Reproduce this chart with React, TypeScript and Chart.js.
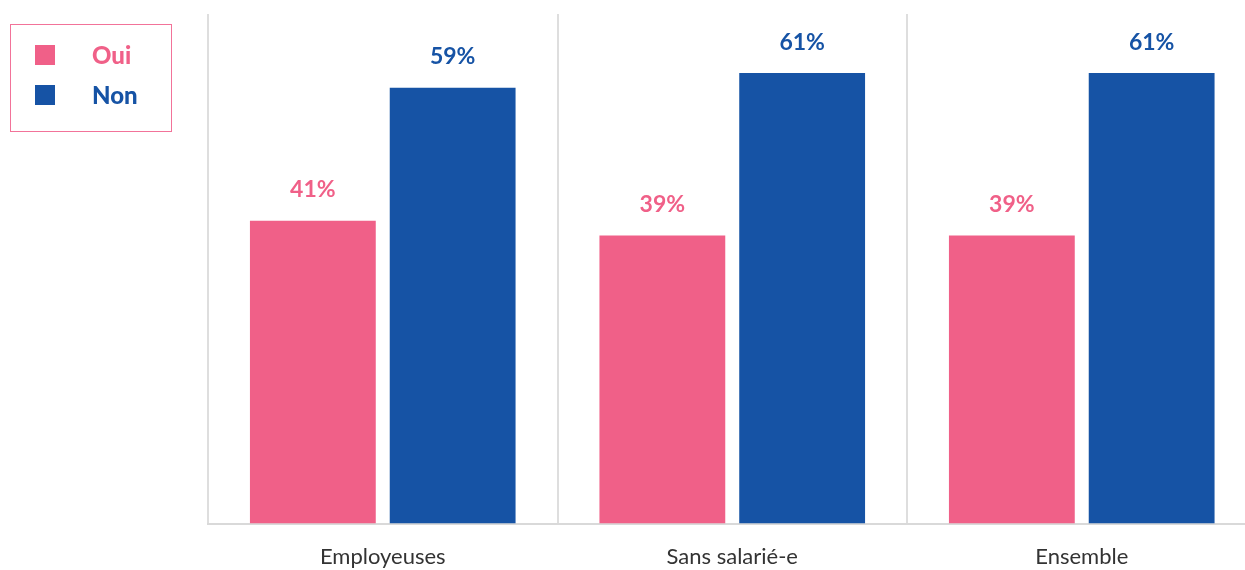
import React, { useEffect, useRef } from "react";
import { Chart, registerables } from "chart.js";

Chart.register(...registerables);

const categories = ["Employeuses", "Sans salarié-e", "Ensemble"];
const seriesNames = ["Oui", "Non"];
const ouiValues = [41, 39, 39];
const nonValues = [59, 61, 61];
const seriesColors = ["#F06088", "#1653A5"];

const FONT = "Lato, 'Noto Sans', sans-serif";

const valueLabels = {
  id: "valueLabels",
  afterDatasetsDraw(chart: any) {
    const ctx = chart.ctx;
    ctx.save();
    ctx.font = `bold 23px ${FONT}`;
    ctx.textAlign = "center";
    ctx.textBaseline = "middle";
    chart.data.datasets.forEach((ds: any, i: number) => {
      const meta = chart.getDatasetMeta(i);
      meta.data.forEach((el: any, j: number) => {
        ctx.fillStyle = ds.backgroundColor;
        ctx.fillText(`${ds.data[j]}%`, el.x, el.y - 31);
      });
    });
    ctx.restore();
  },
};

const boxedLegend = {
  id: "boxedLegend",
  afterDraw(chart: any) {
    const ctx = chart.ctx;
    ctx.save();
    ctx.strokeStyle = "#F27399";
    ctx.lineWidth = 1;
    ctx.strokeRect(10.5, 24.5, 161, 107);
    ctx.font = `900 24px ${FONT}`;
    ctx.textAlign = "left";
    ctx.textBaseline = "middle";
    chart.data.datasets.forEach((ds: any, i: number) => {
      ctx.fillStyle = ds.backgroundColor;
      ctx.fillRect(35, 45 + 40 * i, 20, 20);
      ctx.fillText(ds.label, 92, 56 + 40 * i);
    });
    ctx.restore();
  },
};

export default function App() {
  const ref = useRef<HTMLCanvasElement>(null);
  useEffect(() => {
    if (!ref.current) return;
    const chart = new Chart(ref.current, {
      type: "bar",
      data: {
        labels: categories,
        datasets: [
          { label: seriesNames[0], data: ouiValues, backgroundColor: seriesColors[0] },
          { label: seriesNames[1], data: nonValues, backgroundColor: seriesColors[1] },
        ],
      },
      options: {
        animation: false,
        responsive: false,
        layout: { padding: { left: 208, right: 3.5, top: 14, bottom: 0 } },
        plugins: { legend: { display: false }, tooltip: { enabled: false } },
        scales: {
          x: {
            grid: { color: "#dedede", lineWidth: 2, drawTicks: false },
            border: { color: "#d9d9d9", width: 2 },
            ticks: { color: "#333333", padding: 20, font: { family: FONT, size: 22 } },
          },
          y: { display: false, min: 0, max: 69 },
        },
      },
      plugins: [valueLabels, boxedLegend],
    });
    return () => chart.destroy();
  }, []);
  return (
    <div style={{ position: "fixed", left: 0, top: 0, width: 1245, height: 570, overflow: "hidden", background: "#fff" }}>
      <canvas ref={ref} width={1260} height={590} style={{ display: "block" }} />
    </div>
  );
}
